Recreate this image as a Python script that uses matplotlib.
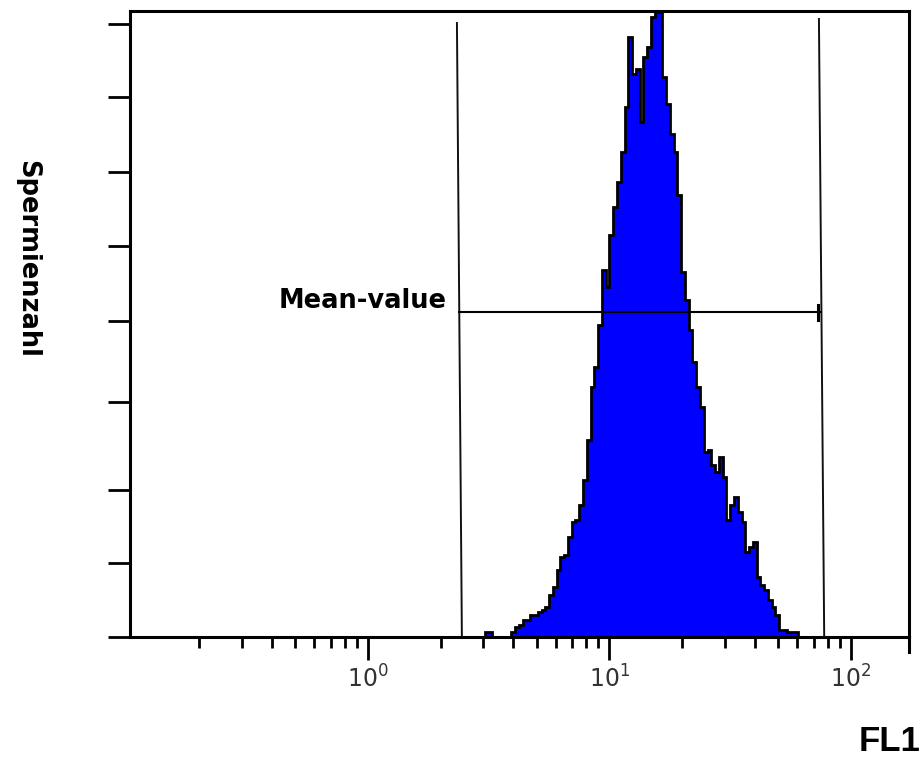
import numpy as np
import matplotlib
matplotlib.use('Agg')
import matplotlib.pyplot as plt
from matplotlib.ticker import LogLocator, NullFormatter

# histogram channels: 64 channels per decade, first filled channel is 31
first_channel = 31
channels_per_decade = 64
counts = [2, 2, 0, 0, 0, 0, 0, 2, 4, 5, 7, 7, 9, 9, 10, 11, 12, 17, 20, 27,
          32, 33, 40, 46, 47, 53, 63, 79, 100, 108, 125, 147, 140, 161, 172, 182, 194, 212, 240, 225,
          227, 206, 232, 236, 248, 250, 250, 224, 213, 201, 194, 177, 146, 135, 123, 110, 100, 92, 74, 75,
          69, 66, 72, 64, 47, 53, 56, 50, 46, 34, 36, 38, 24, 21, 19, 15, 12, 9, 3, 3,
          2, 2, 2]

# gate marker (FL1 values at top and bottom of the two vertical lines)
gate_left = [2.336, 2.449]
gate_right = [73.7, 77.5]
gate_top = [245.6, 247.2]
mean_level = 130
mean_label = 'Mean-value'

x_major = [1, 10, 100]
x_major_labels = [r'$10^{0}$', r'$10^{1}$', r'$10^{2}$']
y_ticks = [0, 29.6, 58.8, 94, 126.4, 156.4, 186, 216, 245.2]

plt.rcParams['mathtext.default'] = 'regular'

fig = plt.figure(figsize=(9.23, 7.58), dpi=100)
ax = fig.add_axes([0.1408, 0.1596, 0.8440, 0.8259])

edges = 10 ** (np.arange(first_channel, first_channel + len(counts) + 1) / channels_per_decade)
ax.stairs(counts, edges, fill=True, color='#0000ff', zorder=2)
ax.stairs(counts, edges, color='black', linewidth=2.0, zorder=3)

# gate lines and mean bar
ax.plot([gate_left[0], gate_left[1]], [gate_top[0], 0], color='#111111', lw=1.4, zorder=4)
ax.plot([gate_right[0], gate_right[1]], [gate_top[1], 0], color='#111111', lw=1.4, zorder=4)
ax.plot([2.39, 75.5], [mean_level, mean_level], color='black', lw=1.5, zorder=4)
ax.plot([73.0, 73.0], [mean_level - 3, mean_level + 3], color='black', lw=2.2, zorder=4)
ax.text(2.124, mean_level + 1.6, mean_label, ha='right', va='baseline',
        fontsize=18.5, fontweight='bold', family='DejaVu Sans')

ax.set_xscale('log')
ax.set_xlim(0.1034, 173.9)
ax.set_ylim(0, 250.4)

ax.set_xticks(x_major)
ax.set_xticklabels(x_major_labels)
ax.xaxis.set_minor_locator(LogLocator(base=10, subs=np.arange(2, 10)))
ax.xaxis.set_minor_formatter(NullFormatter())
ax.tick_params(axis='x', which='major', length=16.5, width=2, pad=4,
               labelsize=17, labelcolor='#333333')
ax.tick_params(axis='x', which='minor', length=8, width=2)

ax.set_yticks(y_ticks)
ax.set_yticklabels([])
ax.tick_params(axis='y', which='major', length=15.8, width=2)

for side in ['left', 'bottom', 'top', 'right']:
    ax.spines[side].set_linewidth(2.2)

# right frame edge sticks out below the axis
ax.plot([1, 1], [0, -0.024], transform=ax.transAxes, color='black', lw=2.2, clip_on=False)

fig.text(0.0293, 0.6583, 'Spermienzahl', rotation=270, ha='center', va='center',
         fontsize=18.5, fontweight='bold')
fig.text(0.9643, 0.0218, 'FL1', ha='center', va='center', fontsize=25,
         fontweight='bold', family='Liberation Sans')

fig.savefig('out.png', dpi=100)
